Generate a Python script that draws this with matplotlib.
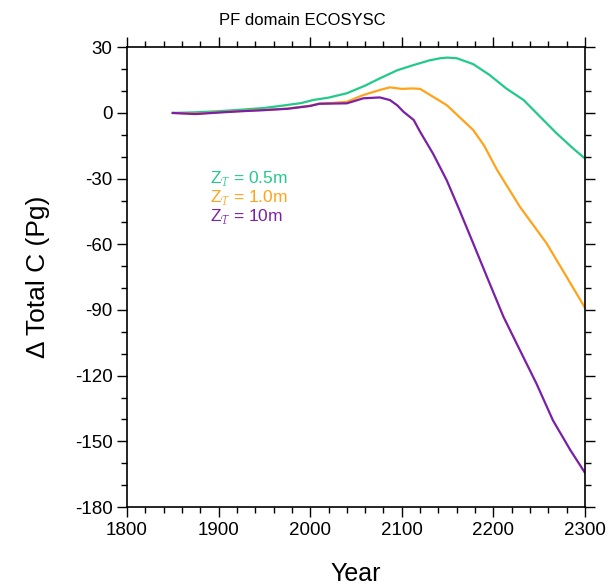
import matplotlib
matplotlib.use("Agg")
from matplotlib import pyplot as plt
from matplotlib.ticker import MultipleLocator

plt.rcParams['font.family'] = ['Liberation Sans', 'DejaVu Sans']
plt.rcParams['mathtext.fontset'] = 'custom'
plt.rcParams['mathtext.rm'] = 'Liberation Sans'
plt.rcParams['axes.unicode_minus'] = False

# values
yr_05 = [1850, 1875, 1900, 1925, 1950, 1967, 1990, 2003, 2020, 2040, 2060, 2076,
         2095, 2113, 2130, 2142, 2150, 2160, 2178, 2196, 2214, 2233, 2251, 2269,
         2287, 2300]
dc_05 = [0, 0.3, 0.8, 1.5, 2.3, 3.2, 4.5, 5.9, 7.0, 9.0, 12.5, 15.8,
         19.5, 21.9, 24.0, 25.0, 25.3, 25.0, 22.3, 17.3, 11.2, 5.9, -1.7, -9.3,
         -16.2, -20.8]

yr_10 = [1850, 1875, 1900, 1925, 1950, 1975, 2000, 2010, 2025, 2040, 2058, 2076,
         2087, 2100, 2112, 2120, 2131, 2149, 2162, 2178, 2190, 2204, 2229, 2258,
         2280, 2300]
dc_10 = [0, -0.3, 0.3, 0.9, 1.4, 2.0, 3.3, 4.3, 4.6, 5.1, 8.2, 10.5,
         11.7, 11.0, 11.2, 11.0, 8.2, 3.6, -1.5, -7.8, -15.0, -26.0, -42.9, -59.5,
         -74.9, -89.0]

yr_100 = [1850, 1875, 1900, 1925, 1950, 1975, 2000, 2010, 2025, 2040, 2058, 2076,
          2087, 2095, 2102, 2113, 2120, 2134, 2149, 2163, 2178, 2193, 2211, 2229,
          2247, 2265, 2284, 2300]
dc_100 = [0, -0.5, 0.2, 0.8, 1.3, 1.9, 3.2, 4.2, 4.3, 4.4, 6.7, 7.1,
          5.9, 3.5, 0.5, -3.2, -8.6, -18.5, -30.7, -44.4, -59.6, -74.9, -93.1, -108.4,
          -123.6, -140.4, -154.0, -164.4]

labels = [r'Z$_{\mathcal{T}}$ = 0.5m', r'Z$_{\mathcal{T}}$ = 1.0m', r'Z$_{\mathcal{T}}$ = 10m']
colors = ['#22c98a', '#ffa31a', '#7a1fa6']

fig = plt.figure(figsize=(6.15, 5.86), dpi=100)
ax = fig.add_axes([0.2065, 0.1348, 0.7447, 0.7845])

ax.plot(yr_05, dc_05, color=colors[0], lw=1.6)
ax.plot(yr_10, dc_10, color=colors[1], lw=1.6)
ax.plot(yr_100, dc_100, color=colors[2], lw=1.6)

ax.set_xlim(1800, 2300)
ax.set_ylim(-180, 30)
ax.xaxis.set_major_locator(MultipleLocator(100))
ax.xaxis.set_minor_locator(MultipleLocator(20))
ax.yaxis.set_major_locator(MultipleLocator(30))
ax.yaxis.set_minor_locator(MultipleLocator(10))
ax.tick_params(which='both', direction='out', top=True, right=True, labelsize=13.5, width=1)
ax.tick_params(which='major', length=7)
ax.tick_params(which='minor', length=4)
for s in ax.spines.values():
    s.set_linewidth(1.2)

ax.set_xlabel('Year', fontsize=18, labelpad=17)
ax.set_ylabel('Δ Total C (Pg)', fontsize=19, labelpad=18)
fig.text(0.491, 0.965, 'PF domain ECOSYSC', fontsize=12, ha='center', va='center')

for i, lab in enumerate(labels):
    ax.text(0.181, 0.715 - i * 0.041, lab, color=colors[i], fontsize=12.5,
            transform=ax.transAxes, va='center')

fig.savefig('out.png', dpi=100)
